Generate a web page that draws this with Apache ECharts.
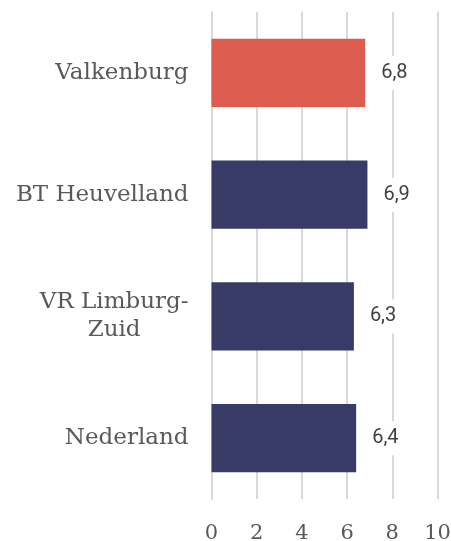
<!DOCTYPE html>
<html>
<head>
<meta charset="utf-8">
<script src="https://cdn.jsdelivr.net/npm/echarts@6/dist/echarts.min.js"></script>
<style>html,body{margin:0;padding:0;background:#fff}#c{width:451px;height:541px}</style>
</head>
<body>
<div id="c"></div>
<script>
const categories = ['Valkenburg', 'BT Heuvelland', 'VR Limburg-\nZuid', 'Nederland'];
const values = [6.8, 6.9, 6.3, 6.4];
const highlight = [true, false, false, false];
const xTicks = [0, 2, 4, 6, 8, 10];

const RED = '#DC5C50';
const NAVY = '#373B65';
const SERIF = '"DejaVu Serif", "Liberation Serif", serif';

const chart = echarts.init(document.getElementById('c'), null, {renderer: 'canvas'});
chart.setOption({
  animation: false,
  backgroundColor: '#ffffff',
  grid: {left: 211.5, right: 13.5, top: 12, bottom: 42, containLabel: false, outerBoundsMode: 'none'},
  xAxis: {
    type: 'value',
    min: xTicks[0],
    max: xTicks[xTicks.length - 1],
    interval: 2,
    axisLine: {show: false},
    axisTick: {show: false},
    splitLine: {show: true, lineStyle: {color: '#D9D9D9', width: 2}},
    axisLabel: {
      margin: 24,
      color: '#595959',
      fontFamily: SERIF,
      fontSize: 21
    }
  },
  yAxis: {
    type: 'category',
    data: categories,
    inverse: true,
    axisLine: {show: true, lineStyle: {color: '#D9D9D9', width: 2}},
    axisTick: {show: false},
    axisLabel: {
      margin: 23,
      color: '#595959',
      fontFamily: SERIF,
      fontSize: 23,
      lineHeight: 28,
      formatter: function (v) {
        const parts = v.split('\n');
        if (parts.length === 1) return '{l|' + v + '}';
        return parts.map(function (p, i) { return (i === 0 ? '{l|' : '{c|') + p + '}'; }).join('\n');
      },
      rich: {
        l: {color: '#595959', fontFamily: SERIF, fontSize: 23, lineHeight: 28},
        c: {color: '#595959', fontFamily: SERIF, fontSize: 23, lineHeight: 28, align: 'center'}
      }
    }
  },
  series: [{
    type: 'bar',
    barCategoryGap: '44%',
    data: values.map(function (v, i) {
      return {value: v, itemStyle: {color: highlight[i] ? RED : NAVY}};
    }),
    label: {
      show: true,
      position: 'right',
      distance: 10,
      color: '#404040',
      fontFamily: 'Roboto, "Open Sans", sans-serif',
      fontSize: 20,
      lineHeight: 20,
      backgroundColor: '#ffffff',
      padding: [7, 6, 7, 6],
      formatter: function (p) { return String(p.value).replace('.', ','); }
    }
  }]
});
</script>
</body>
</html>
